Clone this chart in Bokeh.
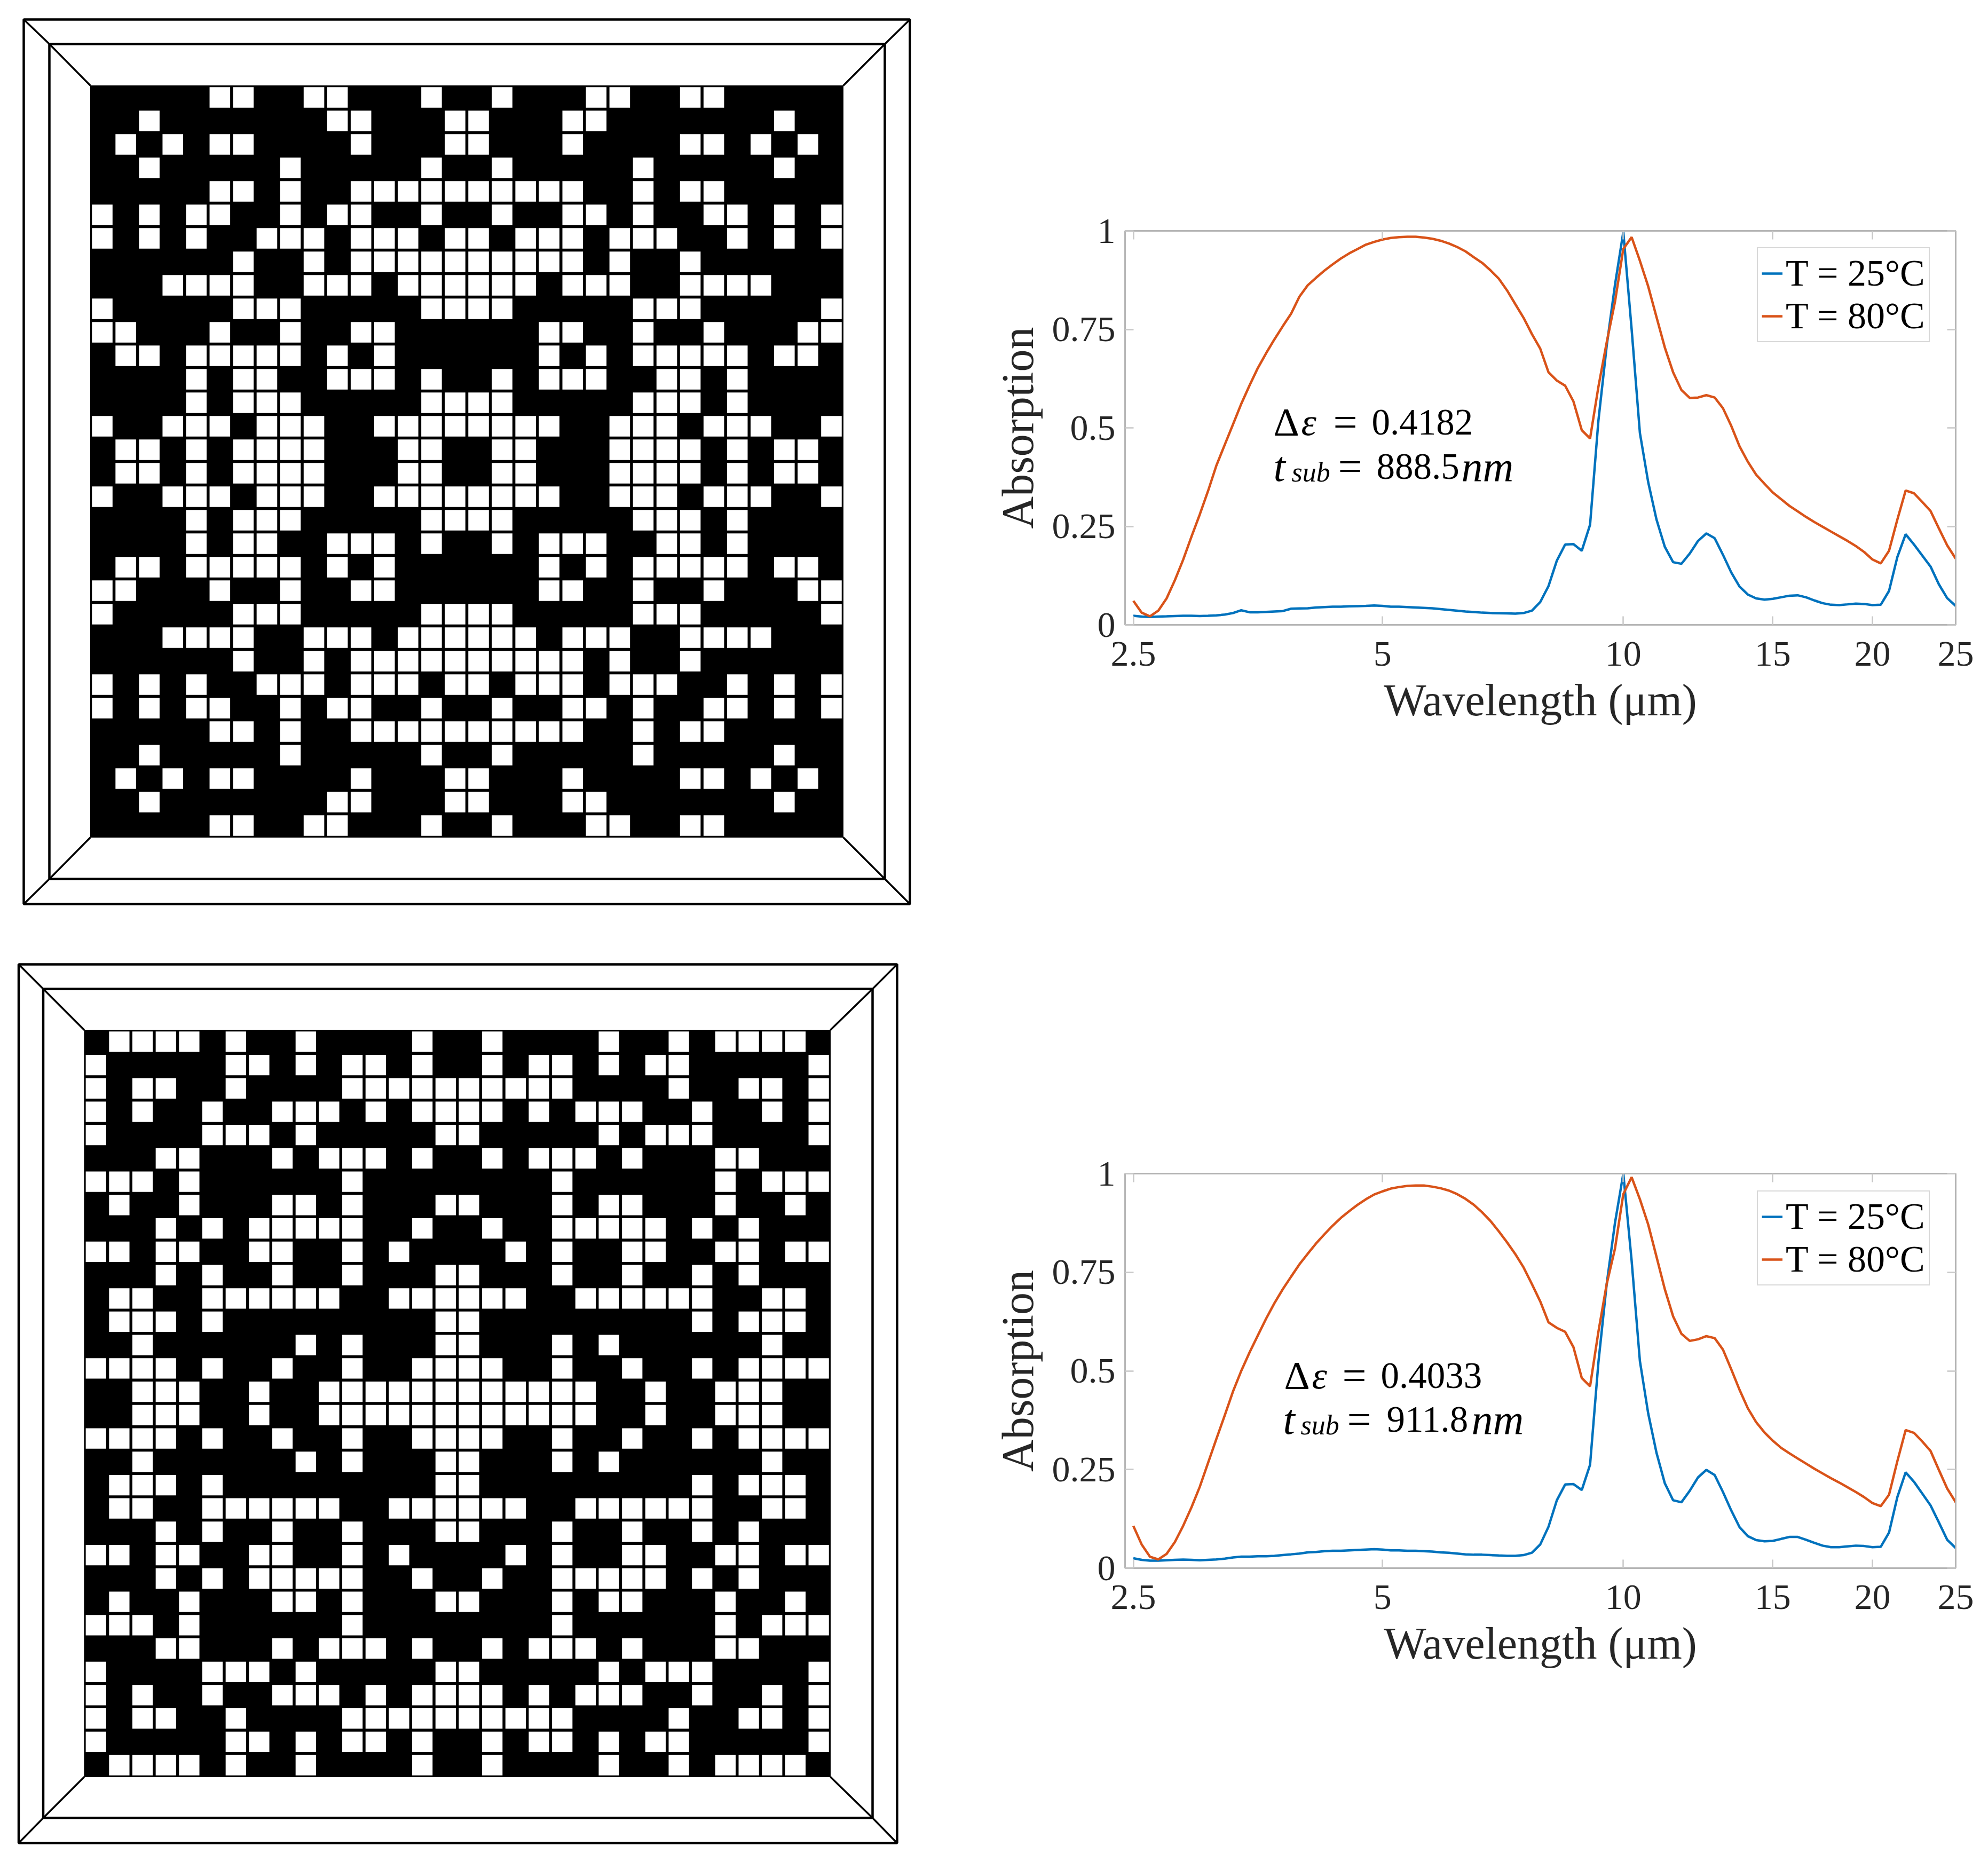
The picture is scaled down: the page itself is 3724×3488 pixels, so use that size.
from bokeh.plotting import figure
from bokeh.layouts import row, column
from bokeh.models import Range1d, FixedTicker, LinearAxis, LogAxis, Legend, LegendItem
from bokeh.core.properties import value
from bokeh.embed import file_html
from bokeh.resources import INLINE

# ---------- metasurface patterns: white cells of the upper-left quadrant, row by row ----------
top_pattern = [
    [5, 6, 9, 10, 14],
    [2, 10, 11, 15],
    [1, 3, 5, 6, 11, 15],
    [2, 8, 14],
    [5, 6, 8, 11, 12, 13, 14, 15],
    [0, 2, 4, 5, 8, 10, 11, 14],
    [0, 2, 4, 7, 8, 9, 11, 12, 13, 15],
    [6, 9, 11, 12, 13, 14, 15],
    [3, 4, 5, 6, 9, 10, 11, 13, 14, 15],
    [0, 6, 7, 8, 14, 15],
    [0, 1, 5, 8, 11, 12],
    [1, 2, 4, 5, 6, 7, 8, 10, 12],
    [4, 6, 7, 10, 11, 12, 14],
    [4, 6, 7, 8, 14, 15],
    [0, 3, 4, 5, 7, 8, 9, 12, 13, 14, 15],
    [1, 2, 4, 6, 7, 8, 9, 13, 14],
]
bottom_pattern = [
    [1, 2, 3, 4, 6, 9, 14],
    [0, 6, 7, 9, 11, 12, 14],
    [0, 2, 3, 6, 11, 12, 13, 14, 15],
    [0, 2, 5, 8, 9, 10, 12, 14, 15],
    [0, 5, 6, 7, 9, 15],
    [3, 4, 8, 10, 11, 12, 14],
    [0, 1, 2, 4, 11],
    [1, 4, 8, 9, 11, 15],
    [3, 5, 7, 8, 9, 10, 11, 14],
    [0, 1, 3, 4, 7, 8, 11, 13],
    [3, 5, 8, 11, 15],
    [1, 2, 5, 6, 7, 8, 9, 10, 13, 14, 15],
    [1, 2, 3, 5, 15],
    [2, 9, 11, 15],
    [0, 1, 2, 3, 5, 8, 11, 14, 15],
    [2, 3, 4, 7, 10, 11, 12, 13, 14, 15],
]

# ---------- spectra ----------
wavelength = [
    2.500, 2.559, 2.619, 2.681, 2.744, 2.808, 2.874, 2.942, 3.011, 3.082,
    3.154, 3.229, 3.305, 3.382, 3.462, 3.543, 3.627, 3.712, 3.799, 3.889,
    3.980, 4.074, 4.170, 4.268, 4.368, 4.471, 4.576, 4.684, 4.794, 4.907,
    5.022, 5.140, 5.261, 5.385, 5.512, 5.641, 5.774, 5.910, 6.049, 6.191,
    6.337, 6.486, 6.638, 6.795, 6.954, 7.118, 7.285, 7.457, 7.632, 7.812,
    7.995, 8.183, 8.376, 8.573, 8.775, 8.981, 9.193, 9.409, 9.630, 9.857,
    10.089, 10.326, 10.569, 10.818, 11.072, 11.333, 11.599, 11.872, 12.151, 12.437,
    12.730, 13.029, 13.336, 13.649, 13.970, 14.299, 14.636, 14.980, 15.332, 15.693,
    16.062, 16.440, 16.827, 17.222, 17.627, 18.042, 18.467, 18.901, 19.346, 19.801,
    20.267, 20.743, 21.231, 21.731, 22.242, 22.765, 23.300, 23.848, 24.409, 25.000,
]
top_25C = [
    .023, .021, .020, .021, .0216, .0225, .023, .023, .0225, .023,
    .024, .026, .030, .037, .032, .032, .033, .034, .035, .041,
    .0415, .042, .044, .045, .046, .046, .047, .0475, .048, .049,
    .048, .046, .046, .045, .044, .043, .042, .040, .038, .036,
    .034, .0325, .031, .030, .0295, .029, .0285, .030, .036, .058,
    .0985, .163, .204, .205, .188, .254, .518, .708, .863, .997,
    .751, .487, .362, .267, .198, .159, .155, .181, .213, .232,
    .220, .178, .133, .097, .077, .067, .064, .066, .070, .074,
    .075, .070, .062, .055, .051, .050, .052, .054, .053, .050,
    .051, .086, .172, .230, .204, .176, .148, .103, .068, .048,
]
top_80C = [
    .061, .031, .0216, .036, .067, .113, .165, .224, .280, .340,
    .404, .457, .509, .561, .608, .652, .690, .725, .758, .790,
    .833, .862, .881, .899, .915, .930, .943, .954, .965, .972,
    .978, .982, .984, .985, .985, .983, .980, .975, .968, .959,
    .948, .933, .919, .900, .879, .849, .814, .779, .738, .701,
    .641, .620, .607, .567, .494, .473, .604, .717, .820, .954,
    .984, .924, .859, .781, .704, .641, .596, .576, .577, .583,
    .577, .550, .505, .453, .414, .381, .358, .336, .319, .302,
    .288, .274, .261, .249, .237, .225, .213, .200, .185, .166,
    .156, .188, .267, .341, .334, .312, .289, .245, .202, .168,
]
bottom_25C = [
    .025, .021, .019, .019, .020, .021, .0215, .021, .020, .021,
    .022, .024, .027, .029, .029, .030, .030, .031, .033, .035,
    .037, .040, .041, .043, .044, .044, .045, .046, .047, .048,
    .047, .045, .045, .044, .044, .043, .042, .040, .039, .037,
    .035, .034, .034, .033, .032, .031, .031, .033, .039, .060,
    .105, .172, .212, .213, .198, .262, .521, .720, .875, 1.0,
    .780, .525, .392, .292, .215, .172, .167, .196, .230, .249,
    .236, .193, .146, .104, .081, .071, .068, .069, .074, .079,
    .079, .072, .064, .057, .053, .053, .055, .057, .056, .053,
    .054, .090, .180, .243, .219, .189, .159, .116, .072, .051,
]
bottom_80C = [
    .107, .060, .029, .022, .036, .066, .107, .154, .206, .267,
    .327, .387, .448, .500, .547, .590, .633, .672, .707, .739,
    .770, .797, .823, .846, .868, .888, .905, .921, .935, .947,
    .955, .962, .966, .969, .970, .970, .967, .963, .957, .948,
    .936, .921, .902, .880, .854, .826, .796, .762, .720, .676,
    .623, .609, .599, .560, .482, .461, .599, .720, .810, .948,
    .991, .935, .871, .789, .707, .638, .594, .576, .580, .588,
    .583, .554, .504, .452, .405, .370, .344, .323, .305, .291,
    .278, .265, .252, .240, .228, .217, .205, .193, .180, .165,
    .157, .186, .271, .350, .343, .321, .297, .249, .202, .167,
]

# ---------- axes ----------
x_ticks = [2.5, 5.022, 9.857, 14.98, 19.80, 25.0]
x_tick_labels = ["2.5", "5", "10", "15", "20", "25"]
y_ticks = [0, 0.25, 0.5, 0.75, 1]
y_tick_labels = ["0", "0.25", "0.5", "0.75", "1"]
series_names = ["T = 25°C", "T = 80°C"]
x_title = "Wavelength (μm)"
y_title = "Absorption"

BLUE, ORANGE = "#0072BD", "#D95319"
AXIS = "#b2b2b2"
TICK = "#c8c8c8"
INK = "#262626"
SERIF = "Liberation Serif"

LEFT_W, SPLIT_Y, PAGE_W, PAGE_H = 1758, 1760, 3708, 3472


def pattern_figure(pattern, y0, y1, grid, mid, outer):
    """grid/mid/outer are (left, top, right, bottom) in picture pixels."""
    x0, x1 = 0, LEFT_W
    p = figure(width=x1 - x0, height=y1 - y0, x_range=Range1d(x0, x1), y_range=Range1d(y1, y0),
               x_axis_type=None, y_axis_type=None, toolbar_location=None, output_backend="svg",
               min_border=0, outline_line_color=None, background_fill_color="white")
    p.grid.visible = False
    L, T, R, B = grid
    pitch_x, pitch_y = (R - L) / 32, (B - T) / 32
    p.quad(left=[L], right=[R], top=[T], bottom=[B], fill_color="black", line_color="black", line_width=1)
    xs, ys = [], []
    for r, cols in enumerate(pattern):
        for c in cols:
            for rr in (r, 31 - r):
                for cc in (c, 31 - c):
                    xs.append(L + (cc + .5) * pitch_x)
                    ys.append(T + (rr + .5) * pitch_y)
    p.rect(x=xs, y=ys, width=pitch_x * .875, height=pitch_y * .875, fill_color="white", line_color=None)
    for b in (mid, outer):
        p.quad(left=[b[0]], right=[b[2]], top=[b[1]], bottom=[b[3]], fill_color=None,
               line_color="black", line_width=4.5)
    for ix, iy in [(0, 1), (2, 1), (2, 3), (0, 3)]:
        p.line([outer[ix], mid[ix], grid[ix]], [outer[iy], mid[iy], grid[iy]],
               line_color="black", line_width=3.5)
    return p


def chart_figure(y0, y1, frame_top, frame_bottom, series_25, series_80, legend_box, runs):
    x0, x1 = LEFT_W, PAGE_W
    f_left, f_right = 2107, 3663
    tick_25px, span = 2122.5, 1540.5

    def xd(px):
        return 2.5 * 10 ** ((px - tick_25px) / span)

    def yd(py):
        return (frame_bottom - py) / (frame_bottom - frame_top)

    p = figure(width=x1 - x0, height=y1 - y0, x_axis_type="log",
               x_range=Range1d(xd(f_left), 25), y_range=Range1d(0, 1),
               toolbar_location=None, output_backend="svg",
               min_border_left=f_left - x0, min_border_right=x1 - f_right,
               min_border_top=frame_top - y0, min_border_bottom=y1 - frame_bottom,
               outline_line_color=AXIS, outline_line_width=2.5)
    p.grid.visible = False
    xt = FixedTicker(ticks=x_ticks)
    yt = FixedTicker(ticks=y_ticks)
    xa, ya = p.xaxis[0], p.yaxis[0]
    xa.ticker = xt
    ya.ticker = yt
    xa.major_label_overrides = dict(zip(x_ticks, x_tick_labels))
    ya.major_label_overrides = dict(zip(y_ticks, y_tick_labels))
    xa.axis_label, ya.axis_label = x_title, y_title
    for a in (xa, ya):
        a.major_label_text_font = SERIF
        a.major_label_text_font_size = "68px"
        a.major_label_text_color = INK
        a.axis_label_text_font = SERIF
        a.axis_label_text_font_size = "84px"
        a.axis_label_text_font_style = "normal"
        a.axis_label_text_color = INK
    xa.major_label_standoff = 32
    ya.major_label_standoff = 18
    xa.axis_label_standoff = 15
    ya.axis_label_standoff = 15
    top_axis = LogAxis(ticker=xt)
    right_axis = LinearAxis(ticker=yt)
    p.add_layout(top_axis, "above")
    p.add_layout(right_axis, "right")
    for a in (xa, ya, top_axis, right_axis):
        a.axis_line_color = AXIS
        a.axis_line_width = 2.5
        a.major_tick_line_color = TICK
        a.major_tick_line_width = 2.5
        a.major_tick_in = 16
        a.major_tick_out = 0
        a.minor_tick_line_color = None
    for a in (top_axis, right_axis):
        a.major_label_text_font_size = "0px"
        a.major_label_text_color = None
        a.major_label_standoff = 0

    r1 = p.line(wavelength, series_25, line_color=BLUE, line_width=4.5)
    r2 = p.line(wavelength, series_80, line_color=ORANGE, line_width=4.5)

    bl, bt, br, bb = legend_box
    legend = Legend(items=[LegendItem(label=value(series_names[0]), renderers=[r1]),
                           LegendItem(label=value(series_names[1]), renderers=[r2])],
                    location=(bl - f_left, frame_bottom - bb), orientation="vertical",
                    glyph_width=39, glyph_height=40, label_standoff=6, label_width=261, label_height=71,
                    padding=7, spacing=0, margin=0,
                    label_text_font=SERIF, label_text_font_size="70px", label_text_color="black",
                    border_line_color=AXIS, border_line_width=2.5, background_fill_color="white",
                    background_fill_alpha=1)
    p.add_layout(legend, "center")

    for txt, px, py, size, style in runs:
        p.text([xd(px)], [yd(py - 24)], text=value(txt), text_font=value(SERIF), text_font_size=f"{size}px",
               text_font_style=style, text_color="black", text_baseline="alphabetic", text_align="left")
    return p


top_left = pattern_figure(top_pattern, 0, SPLIT_Y, (169, 160, 1579, 1568), (92, 82, 1657, 1646), (44, 36, 1704, 1693))
bottom_left = pattern_figure(bottom_pattern, SPLIT_Y, PAGE_H, (157.4, 1929, 1555, 3328), (80.5, 1852, 1634, 3405), (34.5, 1806, 1680, 3452))

top_runs = [
    ("Δ", 2385, 814, 75, "normal"), ("ε", 2437, 814, 72, "italic"), ("=", 2497, 814, 80, "normal"),
    ("0.4182", 2569, 814, 69, "normal"),
    ("t", 2385, 897, 80, "italic"), ("sub", 2419, 908, 52, "italic"), ("=", 2506, 897, 80, "normal"),
    ("888.5", 2578, 897, 69, "normal"), ("nm", 2737, 897, 80, "italic"),
]
bottom_runs = [
    ("Δ", 2405, 2600, 75, "normal"), ("ε", 2457, 2600, 72, "italic"), ("=", 2514, 2600, 80, "normal"),
    ("0.4033", 2586, 2600, 69, "normal"),
    ("t", 2403, 2682, 80, "italic"), ("sub", 2436, 2693, 52, "italic"), ("=", 2523, 2682, 80, "normal"),
    ("911.8", 2597, 2682, 69, "normal"), ("nm", 2756, 2682, 80, "italic"),
]
top_right = chart_figure(0, SPLIT_Y, 432, 1170, top_25C, top_80C, (3291, 486, 3612, 641), top_runs)
bottom_right = chart_figure(SPLIT_Y, PAGE_H, 2198, 2937, bottom_25C, bottom_80C, (3291, 2250, 3612, 2408), bottom_runs)

page = row(column(top_left, bottom_left), column(top_right, bottom_right))
open("out.html", "w").write(file_html(page, INLINE))
